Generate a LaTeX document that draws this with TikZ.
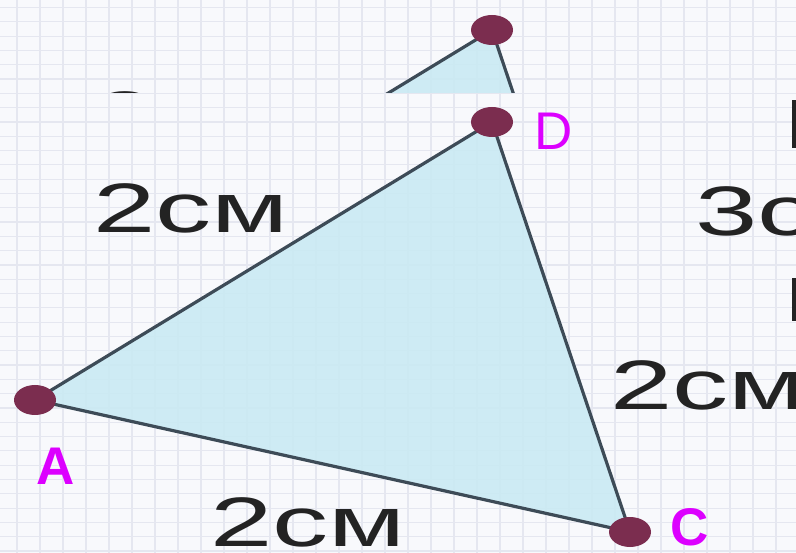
\documentclass[tikz,border=0pt]{standalone}
\usepackage{fontspec}
\setmainfont{Liberation Sans}
\definecolor{Paper}{HTML}{F8F9FC}
\definecolor{Grid}{HTML}{E5E7F0}
\definecolor{Sky}{HTML}{C9EAF3}
\definecolor{Slate}{HTML}{3D4B57}
\definecolor{Plum}{HTML}{7B2D4F}
\definecolor{Ink}{HTML}{232323}
\definecolor{Magenta}{HTML}{DC00FF}

\begin{document}
\begin{tikzpicture}[x=1pt,y=-1pt,
    side/.style={draw=Slate,line width=3.2pt,fill=Sky,fill opacity=0.88,draw opacity=1,line join=round},
    dot/.style={fill=Plum},
    len/.style={text=Ink,font=\fontsize{70}{70}\selectfont,xscale=1.6,inner sep=0pt,anchor=base west},
    vtx/.style={text=Magenta,font=\fontsize{53}{53}\selectfont,inner sep=0pt,anchor=base west},
    gline/.style={Grid,line width=1.2pt}
  ]
    \fill[Paper] (0,0) rectangle (796,553);
    \useasboundingbox (0,0) rectangle (796,553);
    \clip (0,0) rectangle (796,553);
    % squared paper
    \foreach \gx in {0,...,34} \draw[gline] (\gx*23+17,0) -- (\gx*23+17,553);
    \foreach \gy in {0,...,38} \draw[gline] (0,\gy*14.3+7.6) -- (796,\gy*14.3+7.6);
    % main picture, and the strip of its top above it
    \foreach \name/\dy/\ytop/\ybot in {main/0/93/553, strip/92/0/93}{
      \begin{scope}
        \clip (0,\ytop) rectangle (796,\ybot);
        \begin{scope}[yshift=\dy pt]
          \coordinate (A\name) at (35,400);
          \coordinate (D\name) at (492,122);
          \coordinate (C\name) at (630,532);
          \draw[side] (A\name) -- (D\name) -- (C\name) -- cycle;
          \foreach \v in {A,D,C} \fill[dot] (\v\name) ellipse [x radius=21, y radius=15];
          \node[len] (ad\name) at (93,233) {2см};
          \node[len] (dd\name) at (695,236) {3см};
          \node[len] (dc\name) at (610,410) {2см};
          \node[len] (ac\name) at (210,547) {2см};
        \end{scope}
      \end{scope}
    }
    \fill[Ink] (792,100) rectangle (796,148);
    \fill[Ink] (792,278) rectangle (796,321);
    \node[vtx,font=\fontsize{53}{53}\selectfont\bfseries] (labA) at (36,485) {A};
    \node[vtx] (labD) at (534,150) {D};
    \node[vtx,font=\fontsize{53}{53}\selectfont\bfseries] (labC) at (670,545) {C};
  \end{tikzpicture}
\end{document}
